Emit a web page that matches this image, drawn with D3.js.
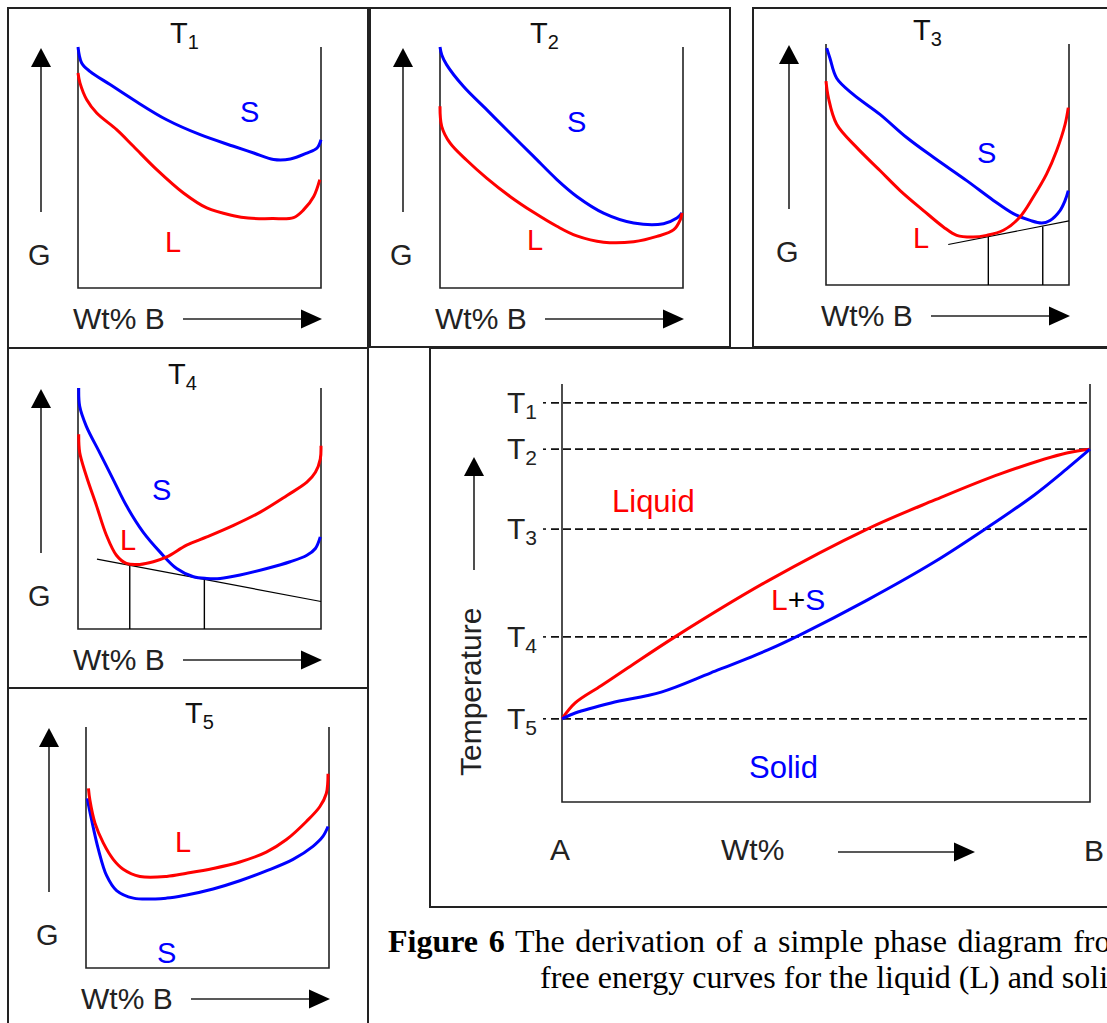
<!DOCTYPE html>
<html>
<head>
<meta charset="utf-8">
<script src="https://cdn.jsdelivr.net/npm/d3@7"></script>
<style>
  body { margin: 0; background: #fff; }
  svg { display: block; }
  text { font-family: "Liberation Sans", Arial, sans-serif; }
</style>
</head>
<body>
<div id="wrapper"></div>
<script>

// 1. Data
// free energy curves: [fraction of B, G as % of the axis height]
const t1Solid = [[0,100],[0.015,93.4],[0.049,89.9],[0.132,84.4],[0.228,78.1],[0.365,69.8],[0.503,63.6],[0.640,58.8],[0.723,56.0],[0.805,53.3],[0.874,53.5],[0.942,56.0],[0.984,58.1],[1,61.5]]
const t1Liquid = [[0,89.2],[0.008,85.1],[0.036,78.1],[0.077,72.6],[0.159,65.7],[0.228,58.8],[0.324,49.1],[0.434,39.4],[0.530,33.2],[0.640,30.0],[0.700,29.0],[0.800,28.8],[0.887,29.2],[0.929,32.5],[0.970,38.0],[0.995,45.0]]

const t2Solid = [[0,100],[0.007,96.8],[0.027,92.7],[0.096,83.7],[0.192,74.0],[0.288,64.3],[0.385,54.6],[0.481,45.0],[0.563,38.0],[0.673,31.1],[0.797,27.0],[0.920,26.7],[0.975,29.0],[0.996,31.1]]
const t2Liquid = [[0,75.4],[0.007,67.1],[0.041,60.2],[0.110,53.0],[0.192,45.6],[0.288,38.0],[0.385,31.4],[0.481,25.6],[0.563,21.6],[0.673,19.0],[0.797,19.2],[0.893,21.4],[0.962,24.2],[0.989,28.4],[0.996,31.1]]

const t3Solid = [[0.003,98.3],[0.016,94.2],[0.044,85.8],[0.112,79.1],[0.222,70.8],[0.332,61.2],[0.442,53.0],[0.579,43.3],[0.689,35.1],[0.771,29.6],[0.840,26.8],[0.888,25.7],[0.922,26.8],[0.963,30.9],[0.984,35.1],[0.997,39.2]]
const t3Liquid = [[0,84.6],[0.010,77.7],[0.044,66.7],[0.126,57.1],[0.222,47.5],[0.305,39.2],[0.401,30.9],[0.483,24.1],[0.538,20.6],[0.606,19.9],[0.661,20.6],[0.730,22.7],[0.798,28.2],[0.853,36.5],[0.908,46.1],[0.949,55.7],[0.984,66.7],[0.997,73.6]]
const t3Tangent = [[0.503,16.8],[1,26.6]]
const t3Ties = [[0.668,20.0],[0.892,24.3]]

const t4Solid = [[0.003,100],[0.007,92.4],[0.034,84.2],[0.089,73.2],[0.144,62.2],[0.199,51.2],[0.268,40.2],[0.337,32.0],[0.406,25.1],[0.475,21.7],[0.530,21.0],[0.585,21.0],[0.667,22.4],[0.777,25.1],[0.873,27.9],[0.942,30.6],[0.977,33.4],[0.997,38.2]]
const t4Liquid = [[0.003,80.8],[0.007,73.2],[0.034,63.6],[0.076,51.2],[0.117,38.9],[0.158,30.6],[0.199,27.2],[0.254,26.8],[0.310,27.9],[0.365,29.9],[0.447,34.8],[0.530,38.2],[0.640,43.0],[0.750,48.5],[0.860,55.4],[0.942,60.9],[0.977,65.0],[0.997,70.5],[1,76.0]]
const t4Tangent = [[0.078,29.0],[1,11.4]]
const t4Ties = [[0.213,26.4],[0.520,20.6]]

const t5Liquid = [[0.010,74.5],[0.016,69.7],[0.037,60.1],[0.071,51.9],[0.112,45.1],[0.153,41.0],[0.222,38.0],[0.332,38.0],[0.414,39.3],[0.523,41.3],[0.633,44.0],[0.742,48.1],[0.825,53.3],[0.907,60.8],[0.962,66.9],[0.989,72.4],[0.996,80.6]]
const t5Solid = [[0.005,70.4],[0.023,61.5],[0.051,49.2],[0.085,38.3],[0.126,32.1],[0.195,29.0],[0.332,29.0],[0.414,30.3],[0.523,32.8],[0.633,36.2],[0.742,40.3],[0.852,45.1],[0.934,50.5],[0.975,54.6],[0.996,58.7]]

// phase diagram: [wt% B, temperature as % of the axis height]
const tempNames = ["1", "2", "3", "4", "5"]
const tempLevels = [95.5, 84.4, 65.3, 39.5, 19.9]
const liquidus = [[0,19.9],[2.5,23.7],[7.4,27.8],[12.5,32.1],[21.4,39.5],[39.0,52.9],[57.8,65.3],[70.5,72.2],[83.0,78.5],[95.6,83.5],[100,84.4]]
const solidus = [[0,19.9],[2.5,21.3],[9.3,23.7],[18.8,26.3],[28.2,30.9],[39.0,36.4],[45.1,40.0],[57.8,48.3],[70.5,57.4],[80.5,65.6],[89.4,73.4],[95.6,79.7],[100,84.4]]

// caption as far as it is visible in the figure
const captionBold = "Figure 6"
const captionLine1 = " The derivation of a simple phase diagram fro"
const captionLine2 = "free energy curves for the liquid (L) and soli"

// 2. Layout
const width = 1107
const height = 1023
const red = "#ff0000"
const blue = "#0000ff"
const ink = "#222"

const panels = [
  { sub: "1", frame: [8, 8, 360, 340], x0: 78, yB: 288, titleX: 170, solid: t1Solid, liquid: t1Liquid, sAt: [240, 122], lAt: [165, 252] },
  { sub: "2", frame: [370, 8, 360, 339], x0: 440, yB: 288, titleX: 530, solid: t2Solid, liquid: t2Liquid, sAt: [567, 132], lAt: [527, 250] },
  { sub: "3", frame: [753, 8, 370, 339], x0: 826, yB: 285, titleX: 913, solid: t3Solid, liquid: t3Liquid, sAt: [977, 163], lAt: [913, 248], tangent: t3Tangent, ties: t3Ties },
  { sub: "4", frame: [8, 348, 360, 340], x0: 78, yB: 629, titleX: 168, solid: t4Solid, liquid: t4Liquid, sAt: [152, 500], lAt: [120, 550], tangent: t4Tangent, ties: t4Ties },
  { sub: "5", frame: [8, 688, 360, 350], x0: 86, yB: 968, titleX: 185, solid: t5Solid, liquid: t5Liquid, sAt: [157, 963], lAt: [175, 852] },
]

const svg = d3.select("#wrapper")
  .append("svg")
    .attr("width", width)
    .attr("height", height)

const arrowUp = (g, x, tipY, bottomY) => {
  g.append("line")
    .attr("x1", x).attr("x2", x)
    .attr("y1", bottomY).attr("y2", tipY + 15)
    .attr("stroke", ink).attr("stroke-width", 1.6)
  g.append("path")
    .attr("d", `M${x},${tipY} L${x - 10},${tipY + 19} L${x + 10},${tipY + 19} Z`)
    .attr("fill", "#000")
}
const arrowRight = (g, x1, tipX, y) => {
  g.append("line")
    .attr("x1", x1).attr("x2", tipX - 15)
    .attr("y1", y).attr("y2", y)
    .attr("stroke", ink).attr("stroke-width", 1.6)
  g.append("path")
    .attr("d", `M${tipX},${y} L${tipX - 21},${y - 9.5} L${tipX - 21},${y + 9.5} Z`)
    .attr("fill", "#000")
}

// 3. Free energy panels
panels.forEach(p => {
  const g = svg.append("g")
  const w = 243, h = 241
  const xScale = d3.scaleLinear().domain([0, 1]).range([p.x0, p.x0 + w])
  const yScale = d3.scaleLinear().domain([0, 100]).range([p.yB, p.yB - h])

  g.append("rect")
    .attr("x", p.frame[0]).attr("y", p.frame[1])
    .attr("width", p.frame[2]).attr("height", p.frame[3])
    .attr("fill", "none").attr("stroke", ink).attr("stroke-width", 2)

  g.append("path")
    .attr("d", `M${xScale(0)},${yScale(100)} V${yScale(0)} H${xScale(1)} V${yScale(100)}`)
    .attr("fill", "none").attr("stroke", ink).attr("stroke-width", 1.6)

  const title = g.append("text")
    .attr("x", p.titleX).attr("y", p.yB - 245)
    .attr("font-size", 29)
    .attr("fill", "#111")
  title.append("tspan").text("T")
  title.append("tspan").attr("font-size", 20).attr("dy", 6).text(p.sub)

  arrowUp(g, p.x0 - 37, p.yB - 240, p.yB - 76)
  g.append("text")
    .attr("x", p.x0 - 50).attr("y", p.yB - 23)
    .attr("font-size", 29).attr("fill", "#222")
    .text("G")

  g.append("text")
    .attr("x", p.x0 - 5).attr("y", p.yB + 41)
    .attr("font-size", 30).attr("fill", "#222")
    .text("Wt% B")
  arrowRight(g, p.x0 + 105, p.x0 + 244, p.yB + 31)

  if (p.tangent) {
    g.append("line")
      .attr("x1", xScale(p.tangent[0][0])).attr("y1", yScale(p.tangent[0][1]))
      .attr("x2", xScale(p.tangent[1][0])).attr("y2", yScale(p.tangent[1][1]))
      .attr("stroke", "#000").attr("stroke-width", 1.2)
    g.selectAll(".tie")
      .data(p.ties)
      .enter().append("line")
        .attr("x1", d => xScale(d[0])).attr("x2", d => xScale(d[0]))
        .attr("y1", d => yScale(d[1])).attr("y2", yScale(0))
        .attr("stroke", "#000").attr("stroke-width", 1.4)
  }

  const lineGen = d3.line()
    .x(d => xScale(d[0]))
    .y(d => yScale(d[1]))
    .curve(d3.curveCatmullRom.alpha(0.5))

  g.append("path")
    .attr("d", lineGen(p.solid))
    .attr("fill", "none").attr("stroke", blue).attr("stroke-width", 3)
  g.append("path")
    .attr("d", lineGen(p.liquid))
    .attr("fill", "none").attr("stroke", red).attr("stroke-width", 3)

  g.append("text")
    .attr("x", p.sAt[0]).attr("y", p.sAt[1])
    .attr("font-size", 29).attr("fill", blue)
    .text("S")
  g.append("text")
    .attr("x", p.lAt[0]).attr("y", p.lAt[1])
    .attr("font-size", 29).attr("fill", red)
    .text("L")
})

// 4. Phase diagram
const phase = svg.append("g")
phase.append("rect")
  .attr("x", 430).attr("y", 348)
  .attr("width", 700).attr("height", 559)
  .attr("fill", "none").attr("stroke", ink).attr("stroke-width", 2)

const xPhase = d3.scaleLinear().domain([0, 100]).range([562, 1090])
const yPhase = d3.scaleLinear().domain([0, 100]).range([802, 384])

tempLevels.forEach((t, i) => {
  const y = yPhase(t)
  phase.append("line")
    .attr("x1", 543).attr("x2", 546)
    .attr("y1", y).attr("y2", y)
    .attr("stroke", "#111").attr("stroke-width", 1.6)
  phase.append("line")
    .attr("x1", 551).attr("x2", xPhase(100))
    .attr("y1", y).attr("y2", y)
    .attr("stroke", "#111").attr("stroke-width", 1.8)
    .attr("stroke-dasharray", "8 4")
  const lab = phase.append("text")
    .attr("x", 507).attr("y", y + 10)
    .attr("font-size", 30).attr("fill", "#222")
  lab.append("tspan").text("T")
  lab.append("tspan").attr("font-size", 21).attr("dy", 6).text(tempNames[i])
})

phase.append("path")
  .attr("d", `M${xPhase(0)},${yPhase(100)} V${yPhase(0)} H${xPhase(100)} V${yPhase(100)}`)
  .attr("fill", "none").attr("stroke", ink).attr("stroke-width", 1.6)

const phaseLine = d3.line()
  .x(d => xPhase(d[0]))
  .y(d => yPhase(d[1]))
  .curve(d3.curveCatmullRom.alpha(0.5))

phase.append("path")
  .attr("d", phaseLine(liquidus))
  .attr("fill", "none").attr("stroke", red).attr("stroke-width", 3)
phase.append("path")
  .attr("d", phaseLine(solidus))
  .attr("fill", "none").attr("stroke", blue).attr("stroke-width", 3)

arrowUp(phase, 474, 457, 570)
phase.append("text")
  .attr("transform", "translate(481,776) rotate(-90)")
  .attr("font-size", 30).attr("fill", "#222")
  .text("Temperature")

phase.append("text").attr("x", 612).attr("y", 512)
  .attr("font-size", 31).attr("fill", red).text("Liquid")
const ls = phase.append("text").attr("x", 771).attr("y", 610)
  .attr("font-size", 30)
ls.append("tspan").attr("fill", red).text("L")
ls.append("tspan").attr("fill", "#000").text("+")
ls.append("tspan").attr("fill", blue).text("S")
phase.append("text").attr("x", 749).attr("y", 778)
  .attr("font-size", 31).attr("fill", blue).text("Solid")

phase.append("text").attr("x", 550).attr("y", 860)
  .attr("font-size", 30).attr("fill", "#222").text("A")
phase.append("text").attr("x", 721).attr("y", 860)
  .attr("font-size", 30).attr("fill", "#222").text("Wt%")
arrowRight(phase, 838, 975, 852)
phase.append("text").attr("x", 1084).attr("y", 861)
  .attr("font-size", 30).attr("fill", "#222").text("B")

// 5. Caption (first line justified in the source, so wider word gaps)
const cap = svg.append("text")
  .attr("x", 388).attr("y", 952)
  .style("font-family", "'Liberation Serif', 'Times New Roman', serif")
  .style("word-spacing", "2.7px")
  .attr("font-size", 32).attr("fill", "#000")
cap.append("tspan").attr("font-weight", "bold").text(captionBold)
cap.append("tspan").text(captionLine1)
svg.append("text")
  .attr("x", 540).attr("y", 988)
  .style("font-family", "'Liberation Serif', 'Times New Roman', serif")
  .attr("font-size", 32).attr("fill", "#000")
  .text(captionLine2)

</script>
</body>
</html>
